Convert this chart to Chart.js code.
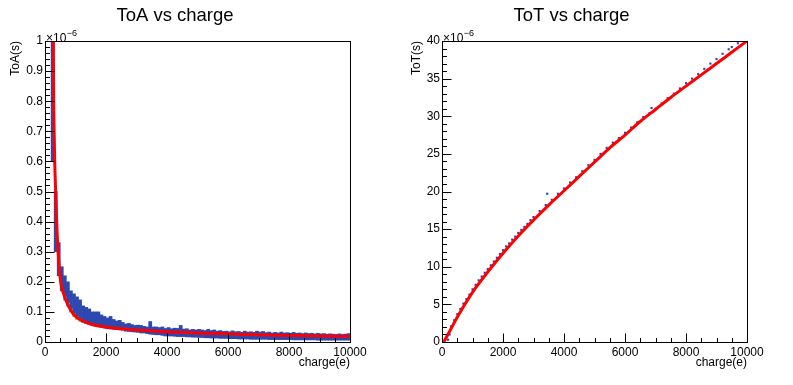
<!DOCTYPE html>
<html>
<head>
<meta charset="utf-8">
<script src="https://cdn.jsdelivr.net/npm/chart.js@4.4.1/dist/chart.umd.min.js"></script>
<style>
  html, body { margin: 0; padding: 0; background: #fff; }
  #wrap { position: relative; width: 793px; height: 385px; }
  canvas { position: absolute; top: 0; }
</style>
</head>
<body>
<div id="wrap">
  <canvas id="toa" width="396" height="385" style="left:0"></canvas>
  <canvas id="tot" width="397" height="385" style="left:396px"></canvas>
</div>
<script>
// ---- ToA 2D histogram (values in units of 1e-6 s), one column per 100 e bin
var histCharge = [250, 350, 450, 550, 650, 750, 850, 950, 1050, 1150, 1250, 1350, 1450, 1550, 1650, 1750, 1850, 1950,
    2050, 2150, 2250, 2350, 2450, 2550, 2650, 2750, 2850, 2950, 3050, 3150, 3250, 3350, 3450, 3550, 3650, 3750, 3850, 3950,
    4050, 4150, 4250, 4350, 4450, 4550, 4650, 4750, 4850, 4950, 5050, 5150, 5250, 5350, 5450, 5550, 5650, 5750, 5850, 5950,
    6050, 6150, 6250, 6350, 6450, 6550, 6650, 6750, 6850, 6950, 7050, 7150, 7250, 7350, 7450, 7550, 7650, 7750, 7850, 7950,
    8050, 8150, 8250, 8350, 8450, 8550, 8650, 8750, 8850, 8950, 9050, 9150, 9250, 9350, 9450, 9550, 9650, 9750, 9850, 9950];
var histLow = [0.6, 0.3, 0.22, 0.17, 0.14, 0.12, 0.1, 0.085, 0.076, 0.07, 0.065, 0.061, 0.058, 0.055, 0.052, 0.05, 0.048, 0.046,
    0.044, 0.043, 0.042, 0.041, 0.04, 0.039, 0.036, 0.035, 0.034, 0.033, 0.032, 0.03, 0.03, 0.028, 0.026, 0.025, 0.024, 0.024, 0.022, 0.02,
    0.02, 0.02, 0.019, 0.018, 0.018, 0.018, 0.017, 0.017, 0.016, 0.016, 0.015, 0.015, 0.014, 0.014, 0.013, 0.013, 0.013, 0.012, 0.012, 0.012,
    0.011, 0.011, 0.011, 0.01, 0.01, 0.01, 0.01, 0.009, 0.009, 0.009, 0.009, 0.009, 0.009, 0.008, 0.008, 0.008, 0.008, 0.008, 0.008, 0.008,
    0.008, 0.007, 0.007, 0.007, 0.007, 0.007, 0.007, 0.007, 0.007, 0.006, 0.006, 0.006, 0.006, 0.006, 0.006, 0.006, 0.006, 0.006, 0.006, 0.006];
var histHigh = [1.0, 0.5, 0.33, 0.25, 0.22, 0.2, 0.17, 0.16, 0.15, 0.14, 0.12, 0.115, 0.11, 0.1, 0.1, 0.1, 0.09, 0.085,
    0.08, 0.085, 0.075, 0.07, 0.072, 0.065, 0.06, 0.062, 0.058, 0.055, 0.056, 0.055, 0.052, 0.05, 0.068, 0.05, 0.05, 0.048, 0.05, 0.045,
    0.048, 0.044, 0.046, 0.045, 0.055, 0.043, 0.044, 0.04, 0.042, 0.04, 0.042, 0.04, 0.038, 0.042, 0.038, 0.04, 0.036, 0.038, 0.035, 0.036,
    0.034, 0.037, 0.034, 0.035, 0.032, 0.036, 0.033, 0.034, 0.032, 0.036, 0.033, 0.035, 0.031, 0.033, 0.03, 0.032, 0.03, 0.033, 0.03, 0.031,
    0.029, 0.032, 0.029, 0.03, 0.028, 0.03, 0.028, 0.029, 0.027, 0.029, 0.027, 0.028, 0.026, 0.027, 0.026, 0.025, 0.027, 0.025, 0.026, 0.028];

// denser cells along the lower edge (lighter palette colours)
var denseCharge = [650, 750, 850, 950, 1050, 1150, 1250, 1350, 1450];
var denseLow = [0.14, 0.12, 0.1, 0.085, 0.076, 0.07, 0.065, 0.061, 0.058];
var denseHigh = [0.15, 0.13, 0.11, 0.094, 0.084, 0.077, 0.071, 0.066, 0.062];
var hotCharge = [950, 1050, 1150];
var hotLow = [0.085, 0.076, 0.07];
var hotHigh = [0.09, 0.081, 0.074];

// ToA fit curve
var toaFitCharge = [272, 285, 300, 318, 350, 383, 430, 513, 600, 700, 850, 1000, 1200, 1500, 2000, 2500, 3000, 3500, 4000,
    5000, 6000, 7000, 8000, 9000, 10000];
var toaFitValue = [1.0, 0.8, 0.7, 0.6, 0.5, 0.4, 0.3, 0.2, 0.163, 0.135, 0.105, 0.085, 0.072, 0.06, 0.05, 0.044, 0.04, 0.037, 0.034,
    0.03, 0.027, 0.024, 0.022, 0.02, 0.019];

// ---- ToT points (units of 1e-6 s)
var totCharge = [200, 250, 300, 400, 500, 600, 700, 800, 900, 1000, 1100, 1200, 1300, 1400, 1500, 1600, 1700, 1800, 1900, 2000,
    2100, 2200, 2300, 2400, 2500, 2600, 2700, 2800, 2900, 3000, 3200, 3400, 3450, 3600, 3800, 4000, 4200, 4400, 4600, 4800,
    5000, 5200, 5400, 5600, 5800, 6000, 6200, 6400, 6600, 6800, 6870, 7000, 7200, 7400, 7600, 7800, 8000, 8200, 8400, 8600,
    8800, 9000, 9200, 9400, 9500, 9700, 9900];
var totValue = [0.3, 1.0, 2.1, 2.9, 3.7, 4.4, 5.1, 5.7, 6.3, 7.0, 7.6, 8.2, 8.7, 9.2, 9.7, 10.2, 10.7, 11.2, 11.7, 12.2,
    12.7, 13.1, 13.6, 14.0, 14.5, 14.9, 15.3, 15.7, 16.2, 16.6, 17.4, 18.2, 19.7, 18.9, 19.7, 20.4, 21.2, 21.9, 22.7, 23.5,
    24.2, 25.0, 25.8, 26.5, 27.1, 27.8, 28.5, 29.2, 29.9, 30.4, 31.1, 31.0, 31.7, 32.4, 33.0, 33.7, 34.4, 35.0, 35.6, 36.3,
    37.0, 37.6, 38.3, 38.9, 39.2, 39.7, 40.0];

// ToT fit curve
var totFitCharge = [60, 300, 500, 1000, 1500, 2000, 2500, 3000, 3500, 4000, 4500, 5000, 5500, 6000, 6500, 7000, 7500, 8000,
    8500, 9000, 9500, 10000];
var totFitValue = [0, 1.8, 3.3, 6.6, 9.3, 11.8, 14.1, 16.2, 18.2, 20.1, 22.0, 23.9, 25.8, 27.5, 29.3, 30.9, 32.5, 34.0,
    35.5, 37.0, 38.5, 40.0];

var chargeTicks = [0, 2000, 4000, 6000, 8000, 10000];

Chart.defaults.font.family = '"Liberation Sans", Arial, Helvetica, sans-serif';
Chart.defaults.color = "#000";

function points(xs, ys) {
    return xs.map(function (x, i) { return { x: x, y: ys[i] }; });
}
function ranges(xs, lo, hi) {
    return xs.map(function (x, i) { return { x: x, y: [lo[i], hi[i]] }; });
}

// ROOT-like frame with inward ticks and the axis exponent
var rootFrame = {
    id: "rootFrame",
    afterDatasetsDraw: function (chart, args, opts) {
        var ctx = chart.ctx, a = chart.chartArea, x = chart.scales.x, y = chart.scales.y;
        ctx.save();
        ctx.strokeStyle = "#000";
        ctx.lineWidth = 1;
        var l = Math.round(a.left) + 0.5, t = Math.round(a.top) + 0.5;
        var r = Math.round(a.right) + 0.5, b = Math.round(a.bottom) + 0.5;
        ctx.strokeRect(l, t, r - l, b - t);
        ctx.beginPath();
        var n = Math.round((x.max - x.min) / opts.xMinor);
        for (var i = 0; i <= n; i++) {
            var v = x.min + i * opts.xMinor;
            var px = Math.round(x.getPixelForValue(v)) + 0.5;
            var len = (i % opts.xEvery === 0) ? 9 : 4.5;
            ctx.moveTo(px, b);
            ctx.lineTo(px, b - len);
        }
        n = Math.round((y.max - y.min) / opts.yMinor);
        for (i = 0; i <= n; i++) {
            v = y.min + i * opts.yMinor;
            var py = Math.round(y.getPixelForValue(v)) + 0.5;
            len = (i % opts.yEvery === 0) ? 9 : 4.5;
            ctx.moveTo(l, py);
            ctx.lineTo(l + len, py);
        }
        ctx.stroke();
        // x10^-6
        ctx.fillStyle = "#000";
        ctx.textBaseline = "alphabetic";
        ctx.textAlign = "left";
        ctx.font = '12px "Liberation Sans", Arial, sans-serif';
        ctx.fillText("\u00d710", a.left + 1, a.top + 0.5);
        var w = ctx.measureText("\u00d710").width;
        ctx.font = '9px "Liberation Sans", Arial, sans-serif';
        ctx.fillText("\u22126", a.left + 1 + w + 0.5, a.top - 5.5);
        ctx.restore();
    }
};

function chargeAxis() {
    return {
        type: "linear",
        min: 0,
        max: 10000,
        offset: false,
        grid: { display: false, drawTicks: false },
        border: { display: false },
        ticks: {
            stepSize: 2000,
            padding: 3,
            maxRotation: 0,
            autoSkip: false,
            font: { size: 12 },
            callback: function (v) { return String(v); }
        },
        afterBuildTicks: function (s) { s.ticks = chargeTicks.map(function (v) { return { value: v }; }); },
        afterFit: function (s) { s.height = 43; },
        title: { display: true, text: "charge(e)", align: "end", font: { size: 12 }, padding: { top: 0, bottom: 15.5 } }
    };
}

new Chart(document.getElementById("toa").getContext("2d"), {
    type: "bar",
    data: {
        datasets: [
            {
                data: ranges(histCharge, histLow, histHigh),
                backgroundColor: "#2d49b0",
                borderWidth: 0,
                grouped: false,
                barPercentage: 1,
                categoryPercentage: 1,
                order: 3
            },
            {
                data: ranges(denseCharge, denseLow, denseHigh),
                backgroundColor: "#4fb8d8",
                borderWidth: 0,
                grouped: false,
                barPercentage: 1,
                categoryPercentage: 1,
                order: 2
            },
            {
                data: ranges(hotCharge, hotLow, hotHigh),
                backgroundColor: "#d9d041",
                borderWidth: 0,
                grouped: false,
                barPercentage: 1,
                categoryPercentage: 1,
                order: 1
            },
            {
                type: "line",
                data: points(toaFitCharge, toaFitValue),
                borderColor: "#ff0000",
                borderWidth: 3,
                pointRadius: 0,
                cubicInterpolationMode: "monotone",
                fill: false,
                order: 0
            }
        ]
    },
    options: {
        responsive: false,
        animation: false,
        layout: { padding: { left: 0, right: 46, top: 0, bottom: 0 } },
        plugins: {
            legend: { display: false },
            tooltip: { enabled: false },
            title: {
                display: true,
                text: "ToA vs charge",
                font: { size: 18.5, weight: "normal" },
                padding: { top: 5, bottom: 13.8 }
            },
            rootFrame: { xMinor: 500, xEvery: 4, yMinor: 0.02, yEvery: 5 }
        },
        scales: {
            x: chargeAxis(),
            y: {
                type: "linear",
                min: 0,
                max: 1,
                grid: { display: false, drawTicks: false },
                border: { display: false },
                ticks: {
                    stepSize: 0.1,
                    padding: 2,
                    font: { size: 12 },
                    callback: function (v) { return String(Math.round(v * 10) / 10); }
                },
                afterFit: function (s) { s.width = 45; },
                title: { display: true, text: "ToA(s)", align: "end", font: { size: 12 }, padding: { top: 8.8, bottom: 0 } }
            }
        }
    },
    plugins: [rootFrame]
});

new Chart(document.getElementById("tot").getContext("2d"), {
    type: "scatter",
    data: {
        datasets: [
            {
                data: points(totCharge, totValue),
                backgroundColor: "#2445c0",
                borderWidth: 0,
                pointStyle: "rect",
                pointRadius: 1.5,
                order: 1
            },
            {
                type: "line",
                data: points(totFitCharge, totFitValue),
                borderColor: "#ff0000",
                borderWidth: 3,
                pointRadius: 0,
                showLine: true,
                cubicInterpolationMode: "monotone",
                fill: false,
                order: 0
            }
        ]
    },
    options: {
        responsive: false,
        animation: false,
        layout: { padding: { left: 0, right: 46, top: 0, bottom: 0 } },
        plugins: {
            legend: { display: false },
            tooltip: { enabled: false },
            title: {
                display: true,
                text: "ToT vs charge",
                font: { size: 18.5, weight: "normal" },
                padding: { top: 5, bottom: 13.8 }
            },
            rootFrame: { xMinor: 500, xEvery: 4, yMinor: 1, yEvery: 5 }
        },
        scales: {
            x: chargeAxis(),
            y: {
                type: "linear",
                min: 0,
                max: 40,
                grid: { display: false, drawTicks: false },
                border: { display: false },
                ticks: { stepSize: 5, padding: 2, font: { size: 12 } },
                afterFit: function (s) { s.width = 46; },
                title: { display: true, text: "ToT(s)", align: "end", font: { size: 12 }, padding: { top: 13.3, bottom: 0 } }
            }
        }
    },
    plugins: [rootFrame]
});
</script>
</body>
</html>
